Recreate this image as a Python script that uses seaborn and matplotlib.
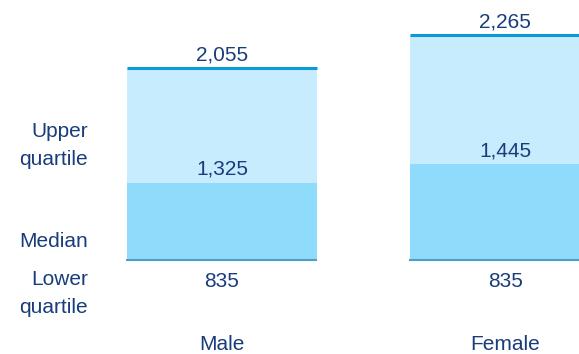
import matplotlib
matplotlib.use("Agg")
import matplotlib.pyplot as plt
import matplotlib.transforms as mtransforms
import seaborn as sns
import pandas as pd

categories = ["Male", "Female"]
lower_q = [835, 835]
median = [1325, 1445]
upper_q = [2055, 2265]
side_labels = ["Upper\nquartile", "Median", "Lower\nquartile"]

TEXT = "#183c7c"
UPPER_FILL = "#c6ecfd"
LOWER_FILL = "#8edbfc"
TOP_LINE = "#0a9ad8"
BASE_LINE = "#4f9cc4"

sns.set_theme(style="white")
plt.rcParams["font.family"] = ["Liberation Sans", "DejaVu Sans"]

fig = plt.figure(figsize=(5.79, 3.54), dpi=100)
ax = fig.add_axes([0, 0, 1, 1])

df = pd.DataFrame({
    "cat": categories,
    "upper_h": [u - l for u, l in zip(upper_q, lower_q)],
    "med_h": [m - l for m, l in zip(median, lower_q)],
})
W = 0.671
sns.barplot(data=df, x="cat", y="upper_h", color=UPPER_FILL, saturation=1,
            width=W, bottom=lower_q, linewidth=0, ax=ax)
sns.barplot(data=df, x="cat", y="med_h", color=LOWER_FILL, saturation=1,
            width=W, bottom=lower_q, linewidth=0, ax=ax)

xs = list(range(len(categories)))
ax.hlines(upper_q, [x - W / 2 for x in xs], [x + W / 2 for x in xs],
          color=TOP_LINE, lw=2.2, zorder=5)
ax.hlines(lower_q, [x - W / 2 - 0.004 for x in xs], [x + W / 2 for x in xs],
          color=BASE_LINE, lw=1.5, zorder=5)

FS = 15
px = 72 / 100  # points per pixel
trans = mtransforms.blended_transform_factory(ax.transData, ax.transAxes)
for x, lo, me, up, cat in zip(xs, lower_q, median, upper_q, categories):
    ax.annotate(f"{up:,}", (x, up), xytext=(0, 7.5 * px), textcoords="offset points",
                ha="center", va="baseline", fontsize=FS, color=TEXT)
    ax.annotate(f"{me:,}", (x, me), xytext=(0, 8 * px), textcoords="offset points",
                ha="center", va="baseline", fontsize=FS, color=TEXT)
    ax.annotate(f"{lo:,}", (x, lo), xytext=(0, -27 * px), textcoords="offset points",
                ha="center", va="baseline", fontsize=FS, color=TEXT)
    ax.text(x, 1 - 350 / 354, cat, transform=trans, ha="center", va="baseline",
            fontsize=FS, color=TEXT)

# baselines of the last line of each side label (pixels from top)
side_baselines = [165, 247, 313]
for lab, yb in zip(side_labels, side_baselines):
    fig.text(88 / 579, 1 - yb / 354, lab, ha="right", va="baseline",
             fontsize=FS, color=TEXT, linespacing=1.58)

ax.set_xlim(-0.784, 1.261)
ax.set_ylim(238, 2487)
ax.axis("off")

fig.savefig("out.png", dpi=100)
